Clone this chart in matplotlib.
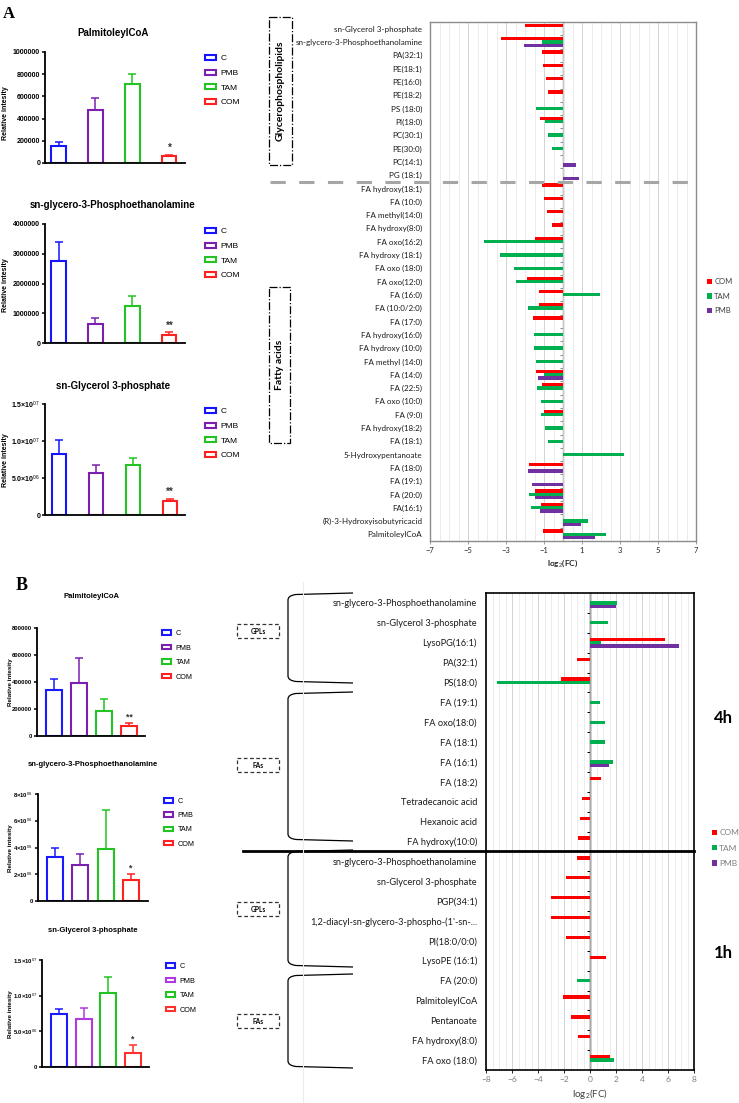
import numpy as np
import matplotlib
matplotlib.use('Agg')
import matplotlib.pyplot as plt
from matplotlib.patches import Rectangle, PathPatch
from matplotlib.path import Path

W, H = 739, 1103
n = None

# ---- dados: graficos de barras (intensidade relativa) ----
grupos = ['C', 'PMB', 'TAM', 'COM']

palm_a = [150000, 480000, 710000, 60000]
palm_a_sup = [190000, 590000, 800000, 75000]
pe_a = [2750000, 630000, 1240000, 270000]
pe_a_sup = [3380000, 840000, 1570000, 360000]
g3p_a = [8.3e6, 5.7e6, 6.8e6, 1.95e6]
g3p_a_sup = [1.01e7, 6.8e6, 7.65e6, 2.2e6]

palm_b = [338000, 392000, 188000, 74000]
palm_b_sup = [425000, 578000, 274000, 96000]
pe_b = [3.3e6, 2.68e6, 3.9e6, 1.58e6]
pe_b_sup = [3.95e6, 3.5e6, 6.8e6, 2.0e6]
g3p_b = [7.4e6, 6.75e6, 1.034e7, 2.0e6]
g3p_b_sup = [8.1e6, 8.3e6, 1.258e7, 3.03e6]

# ---- dados: log2(FC) painel A ----
metab_a = ['sn-Glycerol 3-phosphate', 'sn-glycero-3-Phosphoethanolamine', 'PA(32:1)', 'PE(18:1)',
           'PE(16:0)', 'PE(18:2)', 'PS (18:0)', 'PI(18:0)', 'PC(30:1)', 'PE(30:0)', 'PC(14:1)', 'PG (18:1)',
           'FA hydroxy(18:1)', 'FA (10:0)', 'FA methyl(14:0)', 'FA hydroxy(8:0)', 'FA oxo(16:2)',
           'FA hydroxy (18:1)', 'FA oxo (18:0)', 'FA oxo(12:0)', 'FA (16:0)', 'FA (10:0/2:0)', 'FA (17:0)',
           'FA hydroxy(16:0)', 'FA hydroxy (10:0)', 'FA methyl (14:0)', 'FA (14:0)', 'FA (22:5)',
           'FA oxo (10:0)', 'FA (9:0)', 'FA hydroxy(18:2)', 'FA (18:1)', '5-Hydroxypentanoate', 'FA (18:0)',
           'FA (19:1)', 'FA (20:0)', 'FA(16:1)', '(R)-3-Hydroxyisobutyricacid', 'PalmitoleylCoA']
com_a = [-2.02, -3.27, -1.12, -1.07, -0.9, -0.79, n, -1.21, n, n, n, n,
         -1.11, -1.0, -0.83, -0.6, -1.46, n, n, -1.9, -1.27, -1.28, -1.58, n, n, n, -1.41, -1.11,
         n, -1.0, n, n, n, -1.79, n, -1.46, -1.14, n, -1.07]
tam_a = [n, -1.11, n, n, n, n, -1.44, -0.93, -0.81, -0.6, n, n,
         n, n, n, n, -4.18, -3.29, -2.6, -2.5, 1.93, -1.86, n, -1.55, -1.55, -1.41, -1.02, -1.35,
         -1.14, -1.14, -0.93, -0.77, 3.2, n, n, -1.77, -1.7, 1.3, 2.27]
pmb_a = [n, -2.07, n, n, n, n, n, n, n, n, 0.69, 0.86,
         n, n, n, n, n, n, n, n, n, n, n, n, n, n, -1.32, n,
         n, n, n, n, n, -1.86, -1.63, -1.46, -1.21, 0.97, 1.69]

# ---- dados: log2(FC) painel B (4h e 1h) ----
metab_b = ['sn-glycero-3-Phosphoethanolamine', 'sn-Glycerol 3-phosphate', 'LysoPG(16:1)', 'PA(32:1)',
           'PS(18:0)', 'FA (19:1)', 'FA oxo(18:0)', 'FA (18:1)', 'FA (16:1)', 'FA (18:2)',
           'Tetradecanoic acid', 'Hexanoic acid', 'FA hydroxy(10:0)',
           'sn-glycero-3-Phosphoethanolamine', 'sn-Glycerol 3-phosphate', 'PGP(34:1)',
           "1,2-diacyl-sn-glycero-3-phospho-(1'-sn-...", 'PI(18:0/0:0)', 'LysoPE (16:1)', 'FA (20:0)',
           'PalmitoleylCoA', 'Pentanoate', 'FA hydroxy(8:0)', 'FA oxo (18:0)']
com_b = [n, n, 5.77, -1.0, -2.23, n, n, n, n, 0.85, -0.64, -0.74, -0.9,
         -1.0, -1.85, -3.0, -3.0, -1.85, 1.23, n, -2.1, -1.46, -0.9, 1.54]
tam_b = [2.05, 1.36, 0.85, n, -7.15, 0.77, 1.18, 1.18, 1.74, n, n, n, n,
         n, n, n, n, n, n, -1.0, n, n, n, 1.87]
pmb_b = [2.0, n, 6.87, n, n, n, n, n, 1.49, n, n, n, n,
         n, n, n, n, n, n, n, n, n, n, n]

VERM = '#ff0000'
VERDE = '#00b050'
ROXO = '#7030a0'

plt.rcParams['mathtext.fontset'] = 'custom'
plt.rcParams['mathtext.rm'] = 'Liberation Sans'
plt.rcParams['mathtext.bf'] = 'Liberation Sans:bold'

fig = plt.figure(figsize=(W / 100, H / 100), dpi=100)
fig.patch.set_facecolor('white')


def px(x0, y0, x1, y1):
    # caixa em pixels -> fracao da figura
    return [x0 / W, 1 - y1 / H, (x1 - x0) / W, (y1 - y0) / H]


def grafico_barras(caixa, medias, sup, xlim, larg, yticks, ylabels, sig, cores, fs, leg_x, leg_y, leg_fs, leg_esp):
    ax = fig.add_axes(px(*caixa))
    x = np.arange(len(medias))
    medias = np.array(medias, dtype=float)
    sup = np.array(sup, dtype=float)
    for i in range(len(medias)):
        ax.errorbar(x[i], medias[i], yerr=[[0], [sup[i] - medias[i]]], fmt='none', ecolor=cores[i],
                    elinewidth=1.1, capsize=2.8, capthick=1.1, zorder=1)
    ax.bar(x, medias, width=larg, facecolor='white', edgecolor=cores, linewidth=1.5, zorder=2)
    for i, s in enumerate(sig):
        if s:
            ax.annotate(s, (x[i], sup[i]), xytext=(0, 1), textcoords='offset points', ha='center',
                        va='bottom', fontsize=fs + 2, fontweight='bold', color='#333333',
                        family='Liberation Sans')
    ax.set_xlim(*xlim)
    ax.set_ylim(0, yticks[-1])
    ax.set_yticks(yticks, ylabels)
    ax.set_xticks([])
    for s in ['top', 'right']:
        ax.spines[s].set_visible(False)
    for s in ['left', 'bottom']:
        ax.spines[s].set_linewidth(1.3)
    ax.tick_params(axis='y', labelsize=fs, width=1.1, length=2.5, pad=1)
    for t in ax.get_yticklabels():
        t.set_fontweight('bold')
        t.set_family('Liberation Sans')
    hs = [Rectangle((0, 0), 1, 1, facecolor='white', edgecolor=c, linewidth=1.5) for c in cores]
    fig.legend(hs, grupos, loc='upper left', bbox_to_anchor=(leg_x / W, 1 - leg_y / H), frameon=False,
               prop={'family': 'Liberation Sans', 'size': leg_fs}, handlelength=1.3, handleheight=0.55,
               handletextpad=0.6, labelspacing=leg_esp, borderpad=0, borderaxespad=0)
    return ax


def grafico_fc(caixa, nomes, com, tam, pmb, lim, maiores, alt, desl, fs, pad, cor_eixo, cor_tick, fs_x):
    ax = fig.add_axes(px(*caixa))
    pos = np.arange(len(nomes))
    ax.barh(pos - desl, np.array(com, dtype=float), height=alt, color=VERM, label='COM', zorder=3)
    ax.barh(pos, np.array(tam, dtype=float), height=alt, color=VERDE, label='TAM', zorder=3)
    ax.barh(pos + desl, np.array(pmb, dtype=float), height=alt, color=ROXO, label='PMB', zorder=3)
    ax.set_ylim(len(nomes) - 0.5, -0.5)
    ax.set_xlim(-lim, lim)
    ax.set_xticks(maiores)
    ax.set_xticks(np.arange(-lim, lim + 0.01, 0.5), minor=True)
    ax.grid(which='minor', axis='x', color='#e4e4e4', linewidth=0.5)
    ax.grid(which='major', axis='x', color='#cccccc', linewidth=0.6)
    ax.set_axisbelow(True)
    ax.set_yticks(pos, nomes)
    ax.tick_params(axis='y', length=0, pad=pad, labelsize=fs, labelcolor='#1a1a1a')
    ax.tick_params(axis='x', which='major', length=2.5, width=0.6, color=cor_eixo, labelsize=fs_x,
                   labelcolor=cor_tick, pad=2)
    ax.tick_params(axis='x', which='minor', length=0)
    for t in ax.get_yticklabels() + ax.get_xticklabels():
        t.set_family('Lato')
    for s in ax.spines.values():
        s.set_color(cor_eixo)
        s.set_linewidth(1.0)
    # eixo no zero com marcas entre categorias
    sec = ax.secondary_yaxis(0.5)
    sec.set_alignment('left')
    sec.set_yticks(pos[:-1] + 0.5)
    sec.tick_params(axis='y', length=2.5, width=0.7, direction='out', labelleft=False, labelright=False,
                    color=cor_eixo)
    sec.spines['left'].set_color(cor_eixo)
    sec.spines['left'].set_linewidth(1.0)
    return ax


# ---------------- Painel A ----------------
cores_a = ['#1414ff', '#7a1fb0', '#22c322', '#ff2020']
fmt_sci = lambda m, e: m + '×10$^{' + e + '}$'

grafico_barras((45, 52, 185, 163), palm_a, palm_a_sup, (-0.365, 3.42), 0.38,
               [0, 200000, 400000, 600000, 800000, 1000000],
               ['0', '200000', '400000', '600000', '800000', '1000000'],
               ['', '', '', '*'], cores_a, 5, 205, 55, 6, 0.85)
grafico_barras((45, 224, 185, 343), pe_a, pe_a_sup, (-0.365, 3.42), 0.38,
               [0, 1000000, 2000000, 3000000, 4000000],
               ['0', '1000000', '2000000', '3000000', '4000000'],
               ['', '', '', '**'], cores_a, 5, 205, 228, 6, 0.85)
grafico_barras((45, 404, 185, 515), g3p_a, g3p_a_sup, (-0.39, 3.4), 0.38,
               [0, 5e6, 1e7, 1.5e7],
               ['0', fmt_sci('5.0', '06'), fmt_sci('1.0', '07'), fmt_sci('1.5', '07')],
               ['', '', '', '**'], cores_a, 5, 205, 408, 6, 0.85)

ax_a = grafico_fc((430, 22, 696, 541), metab_a, com_a, tam_a, pmb_a, 7, np.arange(-7, 8, 2),
                  0.25, 0.25, 5.8, 5.5, '#8c8c8c', '#262626', 5.5)
ax_a.set_xlabel('log$_2$(FC)', fontsize=6, fontweight='bold', family='Lato', labelpad=2, color='#262626')
ax_a.axhline(11.5, xmin=-0.6, xmax=1.0, color='#a6a6a6', linewidth=2.2, linestyle=(0, (5, 4.4)),
             clip_on=False, zorder=5)
ax_a.legend(loc='center left', bbox_to_anchor=(1.04, 0.472), frameon=False,
            prop={'family': 'Lato', 'size': 5.5}, handlelength=0.7, handleheight=0.7,
            handletextpad=0.3, labelspacing=1.0, borderpad=0, borderaxespad=0, labelcolor='#404040')

# ---------------- Painel B ----------------
cores_b1 = ['#1a1aff', '#7a1fb0', '#22c322', '#ff2020']
cores_b3 = ['#1a1aff', '#b03ae0', '#22c322', '#ff3030']

grafico_barras((37, 628, 145, 736), palm_b, palm_b_sup, (-0.68, 3.64), 0.64,
               [0, 200000, 400000, 600000, 800000],
               ['0', '200000', '400000', '600000', '800000'],
               ['', '', '', '**'], cores_b1, 4.2, 162, 630, 5.2, 1.05)
grafico_barras((38, 794, 148, 901), pe_b, pe_b_sup, (-0.67, 3.67), 0.64,
               [0, 2e6, 4e6, 6e6, 8e6],
               ['0', fmt_sci('2', '06'), fmt_sci('4', '06'), fmt_sci('6', '06'), fmt_sci('8', '06')],
               ['', '', '', '*'], cores_b1, 4.2, 164, 798, 5.2, 1.0)
grafico_barras((42, 960, 149, 1067), g3p_b, g3p_b_sup, (-0.69, 3.65), 0.64,
               [0, 5e6, 1e7, 1.5e7],
               ['0', fmt_sci('5.0', '06'), fmt_sci('1.0', '07'), fmt_sci('1.5', '07')],
               ['', '', '', '*'], cores_b3, 4.2, 166, 963, 5.2, 1.05)

ax_b = grafico_fc((486, 593, 694, 1070), metab_b, com_b, tam_b, pmb_b, 8, np.arange(-8, 9, 2),
                  0.16, 0.17, 6.7, 6.5, '#000000', '#808080', 6)
ax_b.set_xlabel('log$_2$(FC)', fontsize=7, family='Lato', labelpad=3, color='#404040')
for s in ax_b.spines.values():
    s.set_linewidth(1.2)
ax_b.axhline(12.5, xmin=-1.17, xmax=1.0, color='black', linewidth=2.0, clip_on=False, zorder=5)
ax_b.legend(loc='center left', bbox_to_anchor=(1.085, 0.465), frameon=False,
            prop={'family': 'Lato', 'size': 6}, handlelength=0.6, handleheight=0.6,
            handletextpad=0.3, labelspacing=1.0, borderpad=0, borderaxespad=0, labelcolor='#808080')

# ---------------- anotacoes (coordenadas em pixels) ----------------
ov = fig.add_axes([0, 0, 1, 1])
ov.set_xlim(0, W)
ov.set_ylim(H, 0)
ov.axis('off')
ov.patch.set_alpha(0)

ov.text(3, 14, 'A', fontsize=12, fontweight='bold', family='Liberation Serif', va='center')
ov.text(16, 586, 'B', fontsize=13, fontweight='bold', family='Liberation Serif', va='center')

titulos = [(113, 33, 'PalmitoleylCoA', 7), (113, 205, 'sn-glycero-3-Phosphoethanolamine', 7),
           (113, 386, 'sn-Glycerol 3-phosphate', 7), (92, 596, 'PalmitoleylCoA', 5.5),
           (93, 765, 'sn-glycero-3-Phosphoethanolamine', 5.5), (93, 930, 'sn-Glycerol 3-phosphate', 5.5)]
for xt, yt, txt, f in titulos:
    ov.text(xt, yt, txt, ha='center', va='center', fontsize=f, fontweight='bold', family='Liberation Sans')

for xt, yt, f in [(6, 113, 5), (6, 285, 5), (6, 460, 5), (11, 682, 4.5), (11, 848, 4.5), (11, 1014, 4.5)]:
    ov.text(xt, yt, 'Relative intesity', rotation=90, ha='center', va='center', fontsize=f,
            fontweight='bold', family='Liberation Sans')

# caixas do painel A
for (x0, y0, x1, y1, txt) in [(269, 17, 292, 165, 'Glycerophospholipids'), (269, 287, 290, 443, 'Fatty acids')]:
    ov.add_patch(Rectangle((x0, y0), x1 - x0, y1 - y0, fill=False, edgecolor='black',
                           linewidth=0.9, linestyle='-.'))
    ov.text((x0 + x1) / 2, (y0 + y1) / 2, txt, rotation=90, ha='center', va='center', fontsize=7.5,
            fontweight='bold', family='Lato')

# linha clara vertical do painel B
ov.plot([303, 303], [582, 1103], color='#ececec', linewidth=0.8)

# chaves do painel B
for y0, y1 in [(593, 683), (692, 841), (850, 967), (974, 1068)]:
    verts = [(353, y0), (296, y0 + 1.5), (288, y0 + 2.5), (288, y0 + 7), (288, y1 - 7),
             (288, y1 - 2.5), (296, y1 - 1.5), (353, y1)]
    codes = [Path.MOVETO, Path.LINETO, Path.CURVE3, Path.CURVE3, Path.LINETO,
             Path.CURVE3, Path.CURVE3, Path.LINETO]
    ov.add_patch(PathPatch(Path(verts, codes), fill=False, edgecolor='black', linewidth=0.9))

for y0, txt in [(624, 'GPLs'), (758, 'FAs'), (902, 'GPLs'), (1014, 'FAs')]:
    ov.add_patch(Rectangle((237, y0), 42, 14, fill=False, edgecolor='#333333', linewidth=0.9,
                           linestyle=(0, (3, 2))))
    ov.text(258, y0 + 7, txt, ha='center', va='center', fontsize=4.8, fontweight='bold', family='Lato')

ov.text(723, 718, '4h', ha='center', va='center', fontsize=12, fontweight='bold', family='Lato')
ov.text(723, 953, '1h', ha='center', va='center', fontsize=12, fontweight='bold', family='Lato')

fig.savefig('out.png', dpi=100, facecolor='white')
